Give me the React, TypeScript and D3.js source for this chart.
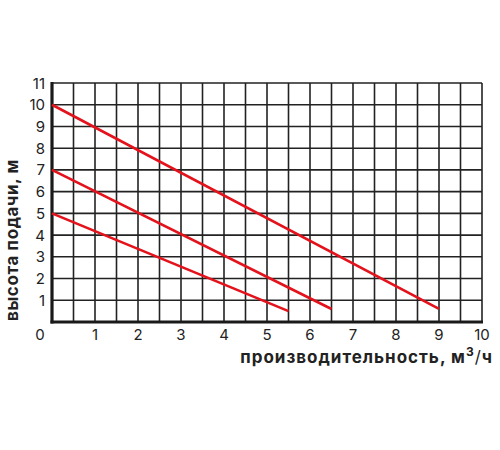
import React from "react";
import * as d3 from "d3";

const xTicks = [1, 2, 3, 4, 5, 6, 7, 8, 9, 10];
const yTicks = [1, 2, 3, 4, 5, 6, 7, 8, 9, 10, 11];
const curve10 = [{ q: 0, h: 10 }, { q: 9, h: 0.6 }];
const curve7 = [{ q: 0, h: 7 }, { q: 6.5, h: 0.6 }];
const curve5 = [{ q: 0, h: 5 }, { q: 5.5, h: 0.5 }];
const curves = [curve10, curve7, curve5];
const xTitle = "производительность, м";
const yTitle = "высота подачи, м";

export default function App() {
  const x = d3.scaleLinear().domain([0, 10]).range([52, 482]);
  const y = d3.scaleLinear().domain([0, 11]).range([322, 83]);
  const line = d3
    .line<{ q: number; h: number }>()
    .x((d) => x(d.q))
    .y((d) => y(d.h));
  const vGrid = d3.range(1, 21).map((i) => i * 0.5);
  const hGrid = d3.range(1, 12);
  const font = "Inter, 'DejaVu Sans', sans-serif";
  return (
    <svg
      width={500}
      height={450}
      style={{ position: "absolute", left: 0, top: 0, background: "#fff" }}
    >
      <g stroke="#222" strokeWidth={1.6}>
        {vGrid.map((v) => (
          <line key={"v" + v} x1={x(v)} x2={x(v)} y1={y(11)} y2={y(0)} />
        ))}
        {hGrid.map((h) => (
          <line key={"h" + h} x1={x(0)} x2={x(10)} y1={y(h)} y2={y(h)} />
        ))}
      </g>
      <line x1={x(0)} x2={x(0)} y1={y(11) - 1} y2={y(0) + 1.5} stroke="#1a1a1a" strokeWidth={3.2} />
      <line x1={x(0) - 1.5} x2={x(10) + 1} y1={y(0)} y2={y(0)} stroke="#1a1a1a" strokeWidth={3.2} />
      {curves.map((c, i) => (
        <path key={i} d={line(c) || ""} fill="none" stroke="#e3121b" strokeWidth={2.6} />
      ))}
      <g fontFamily={font} fontSize={15} fill="#222" fontWeight={400}>
        {xTicks.map((t) => (
          <text key={"x" + t} x={x(t)} y={340} textAnchor="middle">
            {t}
          </text>
        ))}
        <text x={40} y={340} textAnchor="middle">0</text>
        {yTicks.map((t) => (
          <text key={"y" + t} x={45} y={y(t) + 5.5} textAnchor="end">
            {t}
          </text>
        ))}
      </g>
      <text
        x={493}
        y={363}
        textAnchor="end"
        fontFamily={font}
        fontSize={17}
        fontWeight={700}
        letterSpacing={1}
        fill="#222"
      >
        {xTitle}
        <tspan dy={-7} fontSize={12}>3</tspan>
        <tspan dy={7} fontWeight={400}>/</tspan>
        <tspan>ч</tspan>
      </text>
      <text
        transform={`translate(17.5,${240}) rotate(-90)`}
        textAnchor="middle"
        fontFamily={font}
        fontSize={17}
        fontWeight={700}
        letterSpacing={0.6}
        fill="#222"
      >
        {yTitle}
      </text>
    </svg>
  );
}
